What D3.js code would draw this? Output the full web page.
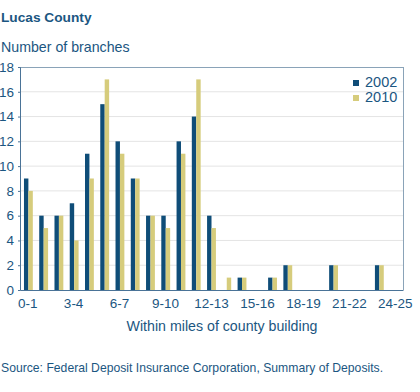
<!DOCTYPE html>
<html><head><meta charset="utf-8">
<script src="https://cdn.jsdelivr.net/npm/d3@7"></script>
<style>body{margin:0;background:#fff;}svg{display:block;font-family:"Liberation Sans",Arial,sans-serif;}</style>
</head><body><svg id="c" width="420" height="392"></svg>
<script>
const categories = ["0-1","1-2","2-3","3-4","4-5","5-6","6-7","7-8","8-9","9-10","10-11","11-12","12-13","13-14","14-15","15-16","16-17","17-18","18-19","19-20","20-21","21-22","22-23","23-24","24-25"];
const seriesNames = ["2002","2010"];
const values2002 = [9,6,6,7,11,15,12,9,6,6,12,14,6,0,1,0,1,2,0,0,2,0,0,2,0];
const values2010 = [8,5,6,4,9,17,11,9,6,5,11,17,5,1,1,0,1,2,0,0,2,0,0,2,0];
const yTicks = [0,2,4,6,8,10,12,14,16,18];
const xTickLabels = ["0-1","3-4","6-7","9-10","12-13","15-16","18-19","21-22","24-25"];
const colors = ["#0f4d78","#d6cc7c"];
const textColor = "#1b5681";

const svg = d3.select("#c");
const L=20, R=403, T=67, B=290;
const x0 = d3.scaleBand().domain(categories).range([L,R]).paddingInner(0.42).paddingOuter(0.26);
const x1 = d3.scaleBand().domain(seriesNames).range([0,x0.bandwidth()]);
const y = d3.scaleLinear().domain([0,18]).range([B,T]);
const xc = d3.scaleBand().domain(categories).range([L,R]);

// gridlines
svg.append("g").selectAll("line").data(yTicks.filter(d=>d>0&&d<18)).join("line")
  .attr("x1",L).attr("x2",R).attr("y1",d=>y(d)).attr("y2",d=>y(d))
  .attr("stroke","#e4e4e4").attr("stroke-width",1);

// bars
const data = categories.map((c,i)=>({c, v:[values2002[i],values2010[i]]}));
const g = svg.append("g").selectAll("g").data(data).join("g")
  .attr("transform",d=>`translate(${x0(d.c)},0)`);
g.selectAll("rect").data(d=>seriesNames.map((s,j)=>({s,v:d.v[j],j}))).join("rect")
  .attr("x",d=>x1(d.s)).attr("width",x1.bandwidth())
  .attr("y",d=>y(d.v)).attr("height",d=>B-y(d.v))
  .attr("fill",d=>colors[d.j]);

// frame
svg.append("line").attr("x1",L).attr("x2",R).attr("y1",T+0.5).attr("y2",T+0.5).attr("stroke","#8aa3b8");
svg.append("line").attr("x1",R+0.5).attr("x2",R+0.5).attr("y1",T).attr("y2",B).attr("stroke","#8aa3b8");

// y axis
const ya = svg.append("g").attr("transform",`translate(${L},0)`)
  .call(d3.axisLeft(y).tickValues(yTicks).tickSize(2).tickPadding(4));
ya.select(".domain").attr("stroke","#4a7397");
ya.selectAll(".tick line").attr("stroke","#4a7397");
ya.selectAll("text").attr("fill",textColor).style("font-size","13.5px").style("font-family","Liberation Sans, Arial, sans-serif");

// x axis
const xa = svg.append("g").attr("transform",`translate(0,${B})`)
  .call(d3.axisBottom(xc).tickValues(xTickLabels).tickSize(0).tickPadding(8));
xa.select(".domain").attr("stroke","#4a7397");
xa.selectAll("text").attr("fill",textColor).style("font-size","13.5px").style("font-family","Liberation Sans, Arial, sans-serif");

// texts
svg.append("text").attr("x",1).attr("y",22).text("Lucas County")
  .attr("fill",textColor).style("font-size","13.7px").style("font-weight","bold");
svg.append("text").attr("x",1).attr("y",52).text("Number of branches")
  .attr("fill",textColor).style("font-size","14.2px");
svg.append("text").attr("x",222).attr("y",331).attr("text-anchor","middle").text("Within miles of county building")
  .attr("fill",textColor).style("font-size","14.2px");
svg.append("text").attr("x",1).attr("y",372).text("Source: Federal Deposit Insurance Corporation, Summary of Deposits.")
  .attr("fill",textColor).style("font-size","12.2px");

// legend
const lg = svg.append("g").selectAll("g").data(seriesNames).join("g")
  .attr("transform",(d,i)=>`translate(353,${80+i*15})`);
lg.append("rect").attr("width",6).attr("height",6).attr("fill",(d,i)=>colors[i]);
lg.append("text").attr("x",12).attr("y",7).text(d=>d).attr("fill",textColor).style("font-size","14.5px");
</script></body></html>
